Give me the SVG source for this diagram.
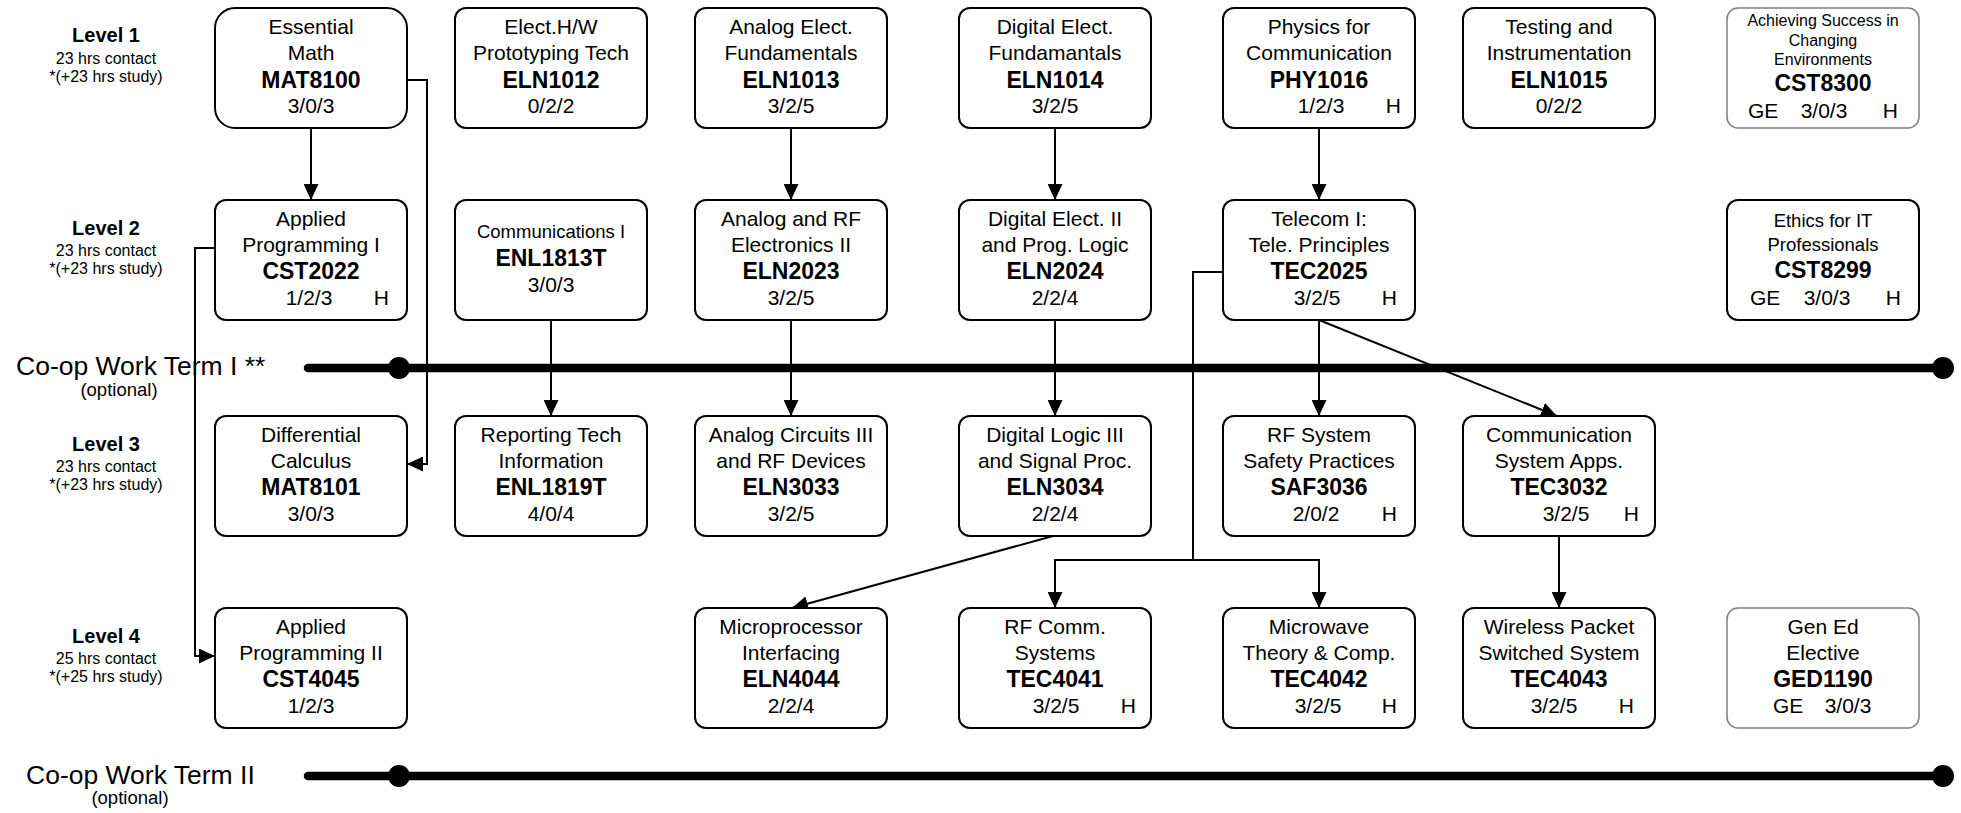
<svg xmlns="http://www.w3.org/2000/svg" width="1961" height="813" viewBox="0 0 1961 813">
<style>
.bg{fill:#fff}
.box{fill:#fff;stroke:#000;stroke-width:2}
.gbox{fill:#fff;stroke:#808080;stroke-width:1.5}
text{font-family:"Liberation Sans",Arial,sans-serif;fill:#000}
.t{font-size:21px;text-anchor:middle}
.c{font-size:23px;font-weight:bold;text-anchor:middle}
.s{font-size:18.5px;text-anchor:middle}
.xs{font-size:16px;text-anchor:middle}
.h{font-size:21px;text-anchor:end}
.ge{font-size:21px;text-anchor:start}
.lv{font-size:20px;font-weight:bold;text-anchor:middle}
.ls{font-size:16px;text-anchor:middle}
.coopt{font-size:26.5px}
.opt{font-size:18.5px;text-anchor:middle}
.conn{fill:none;stroke:#000;stroke-width:2}
.coop{stroke:#000;stroke-width:8.5;stroke-linecap:round}
</style>
<defs>
<marker id="arr" markerUnits="userSpaceOnUse" markerWidth="16" markerHeight="15" refX="16" refY="7.5" orient="auto">
<path d="M0,0 L16,7.5 L0,15 Z" fill="#000"/>
</marker>
</defs>
<rect class="bg" x="0" y="0" width="1961" height="813"/>

<g id="levels">
<text class="lv" x="106" y="42">Level 1</text>
<text class="ls" x="106" y="64">23 hrs contact</text>
<text class="ls" x="106" y="82">*(+23 hrs study)</text>
<text class="lv" x="106" y="235">Level 2</text>
<text class="ls" x="106" y="256">23 hrs contact</text>
<text class="ls" x="106" y="274">*(+23 hrs study)</text>
<text class="lv" x="106" y="451">Level 3</text>
<text class="ls" x="106" y="472">23 hrs contact</text>
<text class="ls" x="106" y="490">*(+23 hrs study)</text>
<text class="lv" x="106" y="643">Level 4</text>
<text class="ls" x="106" y="664">25 hrs contact</text>
<text class="ls" x="106" y="682">*(+25 hrs study)</text>
</g>

<g id="coop1">
<line class="coop" x1="308" y1="368" x2="1943" y2="368"/>
<circle cx="399" cy="368" r="11"/>
<circle cx="1943" cy="368" r="11"/>
<text class="coopt" x="16" y="375">Co-op Work Term I **</text>
<text class="opt" x="119" y="396">(optional)</text>
</g>
<g id="coop2">
<line class="coop" x1="308" y1="776" x2="1943" y2="776"/>
<circle cx="399" cy="776" r="11"/>
<circle cx="1943" cy="776" r="11"/>
<text class="coopt" x="26" y="784">Co-op Work Term II</text>
<text class="opt" x="130" y="804">(optional)</text>
</g>

<g id="connectors">
<line class="conn" x1="311" y1="128" x2="311" y2="200" marker-end="url(#arr)"/>
<path class="conn" d="M407,80 H427 V464 H407" marker-end="url(#arr)"/>
<path class="conn" d="M215,248 H195 V656 H215" marker-end="url(#arr)"/>
<line class="conn" x1="551" y1="320" x2="551" y2="416" marker-end="url(#arr)"/>
<line class="conn" x1="791" y1="128" x2="791" y2="200" marker-end="url(#arr)"/>
<line class="conn" x1="1055" y1="128" x2="1055" y2="200" marker-end="url(#arr)"/>
<line class="conn" x1="1319" y1="128" x2="1319" y2="200" marker-end="url(#arr)"/>
<line class="conn" x1="791" y1="320" x2="791" y2="416" marker-end="url(#arr)"/>
<line class="conn" x1="1055" y1="320" x2="1055" y2="416" marker-end="url(#arr)"/>
<line class="conn" x1="1319" y1="320" x2="1319" y2="416" marker-end="url(#arr)"/>
<line class="conn" x1="1319" y1="320" x2="1557" y2="416" marker-end="url(#arr)"/>
<path class="conn" d="M1223,272 H1193 V560"/>
<path class="conn" d="M1193,560 H1055 V608" marker-end="url(#arr)"/>
<path class="conn" d="M1193,560 H1319 V608" marker-end="url(#arr)"/>
<line class="conn" x1="1053" y1="536" x2="792" y2="608" marker-end="url(#arr)"/>
<line class="conn" x1="1559" y1="536" x2="1559" y2="608" marker-end="url(#arr)"/>
</g>

<!-- Row 1 -->
<g id="MAT8100">
<rect class="box" x="215" y="8" width="192" height="120" rx="20"/>
<text class="t" x="311" y="34">Essential</text>
<text class="t" x="311" y="60">Math</text>
<text class="c" x="311" y="88">MAT8100</text>
<text class="t" x="311" y="113">3/0/3</text>
</g>
<g id="ELN1012">
<rect class="box" x="455" y="8" width="192" height="120" rx="11"/>
<text class="t" x="551" y="34">Elect.H/W</text>
<text class="t" x="551" y="60">Prototyping Tech</text>
<text class="c" x="551" y="88">ELN1012</text>
<text class="t" x="551" y="113">0/2/2</text>
</g>
<g id="ELN1013">
<rect class="box" x="695" y="8" width="192" height="120" rx="11"/>
<text class="t" x="791" y="34">Analog Elect.</text>
<text class="t" x="791" y="60">Fundamentals</text>
<text class="c" x="791" y="88">ELN1013</text>
<text class="t" x="791" y="113">3/2/5</text>
</g>
<g id="ELN1014">
<rect class="box" x="959" y="8" width="192" height="120" rx="11"/>
<text class="t" x="1055" y="34">Digital Elect.</text>
<text class="t" x="1055" y="60">Fundamantals</text>
<text class="c" x="1055" y="88">ELN1014</text>
<text class="t" x="1055" y="113">3/2/5</text>
</g>
<g id="PHY1016">
<rect class="box" x="1223" y="8" width="192" height="120" rx="11"/>
<text class="t" x="1319" y="34">Physics for</text>
<text class="t" x="1319" y="60">Communication</text>
<text class="c" x="1319" y="88">PHY1016</text>
<text class="t" x="1321" y="113">1/2/3</text>
<text class="h" x="1401" y="113">H</text>
</g>
<g id="ELN1015">
<rect class="box" x="1463" y="8" width="192" height="120" rx="11"/>
<text class="t" x="1559" y="34">Testing and</text>
<text class="t" x="1559" y="60">Instrumentation</text>
<text class="c" x="1559" y="88">ELN1015</text>
<text class="t" x="1559" y="113">0/2/2</text>
</g>
<g id="CST8300">
<rect class="gbox" x="1727" y="8" width="192" height="120" rx="11"/>
<text class="xs" x="1823" y="26">Achieving Success in</text>
<text class="xs" x="1823" y="46">Changing</text>
<text class="xs" x="1823" y="65">Environments</text>
<text class="c" x="1823" y="91">CST8300</text>
<text class="ge" x="1748" y="118">GE</text>
<text class="t" x="1824" y="118">3/0/3</text>
<text class="h" x="1898" y="118">H</text>
</g>

<!-- Row 2 -->
<g id="CST2022">
<rect class="box" x="215" y="200" width="192" height="120" rx="11"/>
<text class="t" x="311" y="226">Applied</text>
<text class="t" x="311" y="252">Programming I</text>
<text class="c" x="311" y="279">CST2022</text>
<text class="t" x="309" y="305">1/2/3</text>
<text class="h" x="389" y="305">H</text>
</g>
<g id="ENL1813T">
<rect class="box" x="455" y="200" width="192" height="120" rx="11"/>
<text class="s" x="551" y="238">Communications I</text>
<text class="c" x="551" y="266">ENL1813T</text>
<text class="t" x="551" y="292">3/0/3</text>
</g>
<g id="ELN2023">
<rect class="box" x="695" y="200" width="192" height="120" rx="11"/>
<text class="t" x="791" y="226">Analog and RF</text>
<text class="t" x="791" y="252">Electronics II</text>
<text class="c" x="791" y="279">ELN2023</text>
<text class="t" x="791" y="305">3/2/5</text>
</g>
<g id="ELN2024">
<rect class="box" x="959" y="200" width="192" height="120" rx="11"/>
<text class="t" x="1055" y="226">Digital Elect. II</text>
<text class="t" x="1055" y="252">and Prog. Logic</text>
<text class="c" x="1055" y="279">ELN2024</text>
<text class="t" x="1055" y="305">2/2/4</text>
</g>
<g id="TEC2025">
<rect class="box" x="1223" y="200" width="192" height="120" rx="11"/>
<text class="t" x="1319" y="226">Telecom I:</text>
<text class="t" x="1319" y="252">Tele. Principles</text>
<text class="c" x="1319" y="279">TEC2025</text>
<text class="t" x="1317" y="305">3/2/5</text>
<text class="h" x="1397" y="305">H</text>
</g>
<g id="CST8299">
<rect class="box" x="1727" y="200" width="192" height="120" rx="11"/>
<text class="s" x="1823" y="227">Ethics for IT</text>
<text class="s" x="1823" y="251">Professionals</text>
<text class="c" x="1823" y="278">CST8299</text>
<text class="ge" x="1750" y="305">GE</text>
<text class="t" x="1827" y="305">3/0/3</text>
<text class="h" x="1901" y="305">H</text>
</g>

<!-- Row 3 -->
<g id="MAT8101">
<rect class="box" x="215" y="416" width="192" height="120" rx="11"/>
<text class="t" x="311" y="442">Differential</text>
<text class="t" x="311" y="468">Calculus</text>
<text class="c" x="311" y="495">MAT8101</text>
<text class="t" x="311" y="521">3/0/3</text>
</g>
<g id="ENL1819T">
<rect class="box" x="455" y="416" width="192" height="120" rx="11"/>
<text class="t" x="551" y="442">Reporting Tech</text>
<text class="t" x="551" y="468">Information</text>
<text class="c" x="551" y="495">ENL1819T</text>
<text class="t" x="551" y="521">4/0/4</text>
</g>
<g id="ELN3033">
<rect class="box" x="695" y="416" width="192" height="120" rx="11"/>
<text class="t" x="791" y="442">Analog Circuits III</text>
<text class="t" x="791" y="468">and RF Devices</text>
<text class="c" x="791" y="495">ELN3033</text>
<text class="t" x="791" y="521">3/2/5</text>
</g>
<g id="ELN3034">
<rect class="box" x="959" y="416" width="192" height="120" rx="11"/>
<text class="t" x="1055" y="442">Digital Logic III</text>
<text class="t" x="1055" y="468">and Signal Proc.</text>
<text class="c" x="1055" y="495">ELN3034</text>
<text class="t" x="1055" y="521">2/2/4</text>
</g>
<g id="SAF3036">
<rect class="box" x="1223" y="416" width="192" height="120" rx="11"/>
<text class="t" x="1319" y="442">RF System</text>
<text class="t" x="1319" y="468">Safety Practices</text>
<text class="c" x="1319" y="495">SAF3036</text>
<text class="t" x="1316" y="521">2/0/2</text>
<text class="h" x="1397" y="521">H</text>
</g>
<g id="TEC3032">
<rect class="box" x="1463" y="416" width="192" height="120" rx="11"/>
<text class="t" x="1559" y="442">Communication</text>
<text class="t" x="1559" y="468">System Apps.</text>
<text class="c" x="1559" y="495">TEC3032</text>
<text class="t" x="1566" y="521">3/2/5</text>
<text class="h" x="1639" y="521">H</text>
</g>

<!-- Row 4 -->
<g id="CST4045">
<rect class="box" x="215" y="608" width="192" height="120" rx="11"/>
<text class="t" x="311" y="634">Applied</text>
<text class="t" x="311" y="660">Programming II</text>
<text class="c" x="311" y="687">CST4045</text>
<text class="t" x="311" y="713">1/2/3</text>
</g>
<g id="ELN4044">
<rect class="box" x="695" y="608" width="192" height="120" rx="11"/>
<text class="t" x="791" y="634">Microprocessor</text>
<text class="t" x="791" y="660">Interfacing</text>
<text class="c" x="791" y="687">ELN4044</text>
<text class="t" x="791" y="713">2/2/4</text>
</g>
<g id="TEC4041">
<rect class="box" x="959" y="608" width="192" height="120" rx="11"/>
<text class="t" x="1055" y="634">RF Comm.</text>
<text class="t" x="1055" y="660">Systems</text>
<text class="c" x="1055" y="687">TEC4041</text>
<text class="t" x="1056" y="713">3/2/5</text>
<text class="h" x="1136" y="713">H</text>
</g>
<g id="TEC4042">
<rect class="box" x="1223" y="608" width="192" height="120" rx="11"/>
<text class="t" x="1319" y="634">Microwave</text>
<text class="t" x="1319" y="660">Theory &amp; Comp.</text>
<text class="c" x="1319" y="687">TEC4042</text>
<text class="t" x="1318" y="713">3/2/5</text>
<text class="h" x="1397" y="713">H</text>
</g>
<g id="TEC4043">
<rect class="box" x="1463" y="608" width="192" height="120" rx="11"/>
<text class="t" x="1559" y="634">Wireless Packet</text>
<text class="t" x="1559" y="660">Switched System</text>
<text class="c" x="1559" y="687">TEC4043</text>
<text class="t" x="1554" y="713">3/2/5</text>
<text class="h" x="1634" y="713">H</text>
</g>
<g id="GED1190">
<rect class="gbox" x="1727" y="608" width="192" height="120" rx="11"/>
<text class="t" x="1823" y="634">Gen Ed</text>
<text class="t" x="1823" y="660">Elective</text>
<text class="c" x="1823" y="687">GED1190</text>
<text class="ge" x="1773" y="713">GE</text>
<text class="t" x="1848" y="713">3/0/3</text>
</g>
</svg>
